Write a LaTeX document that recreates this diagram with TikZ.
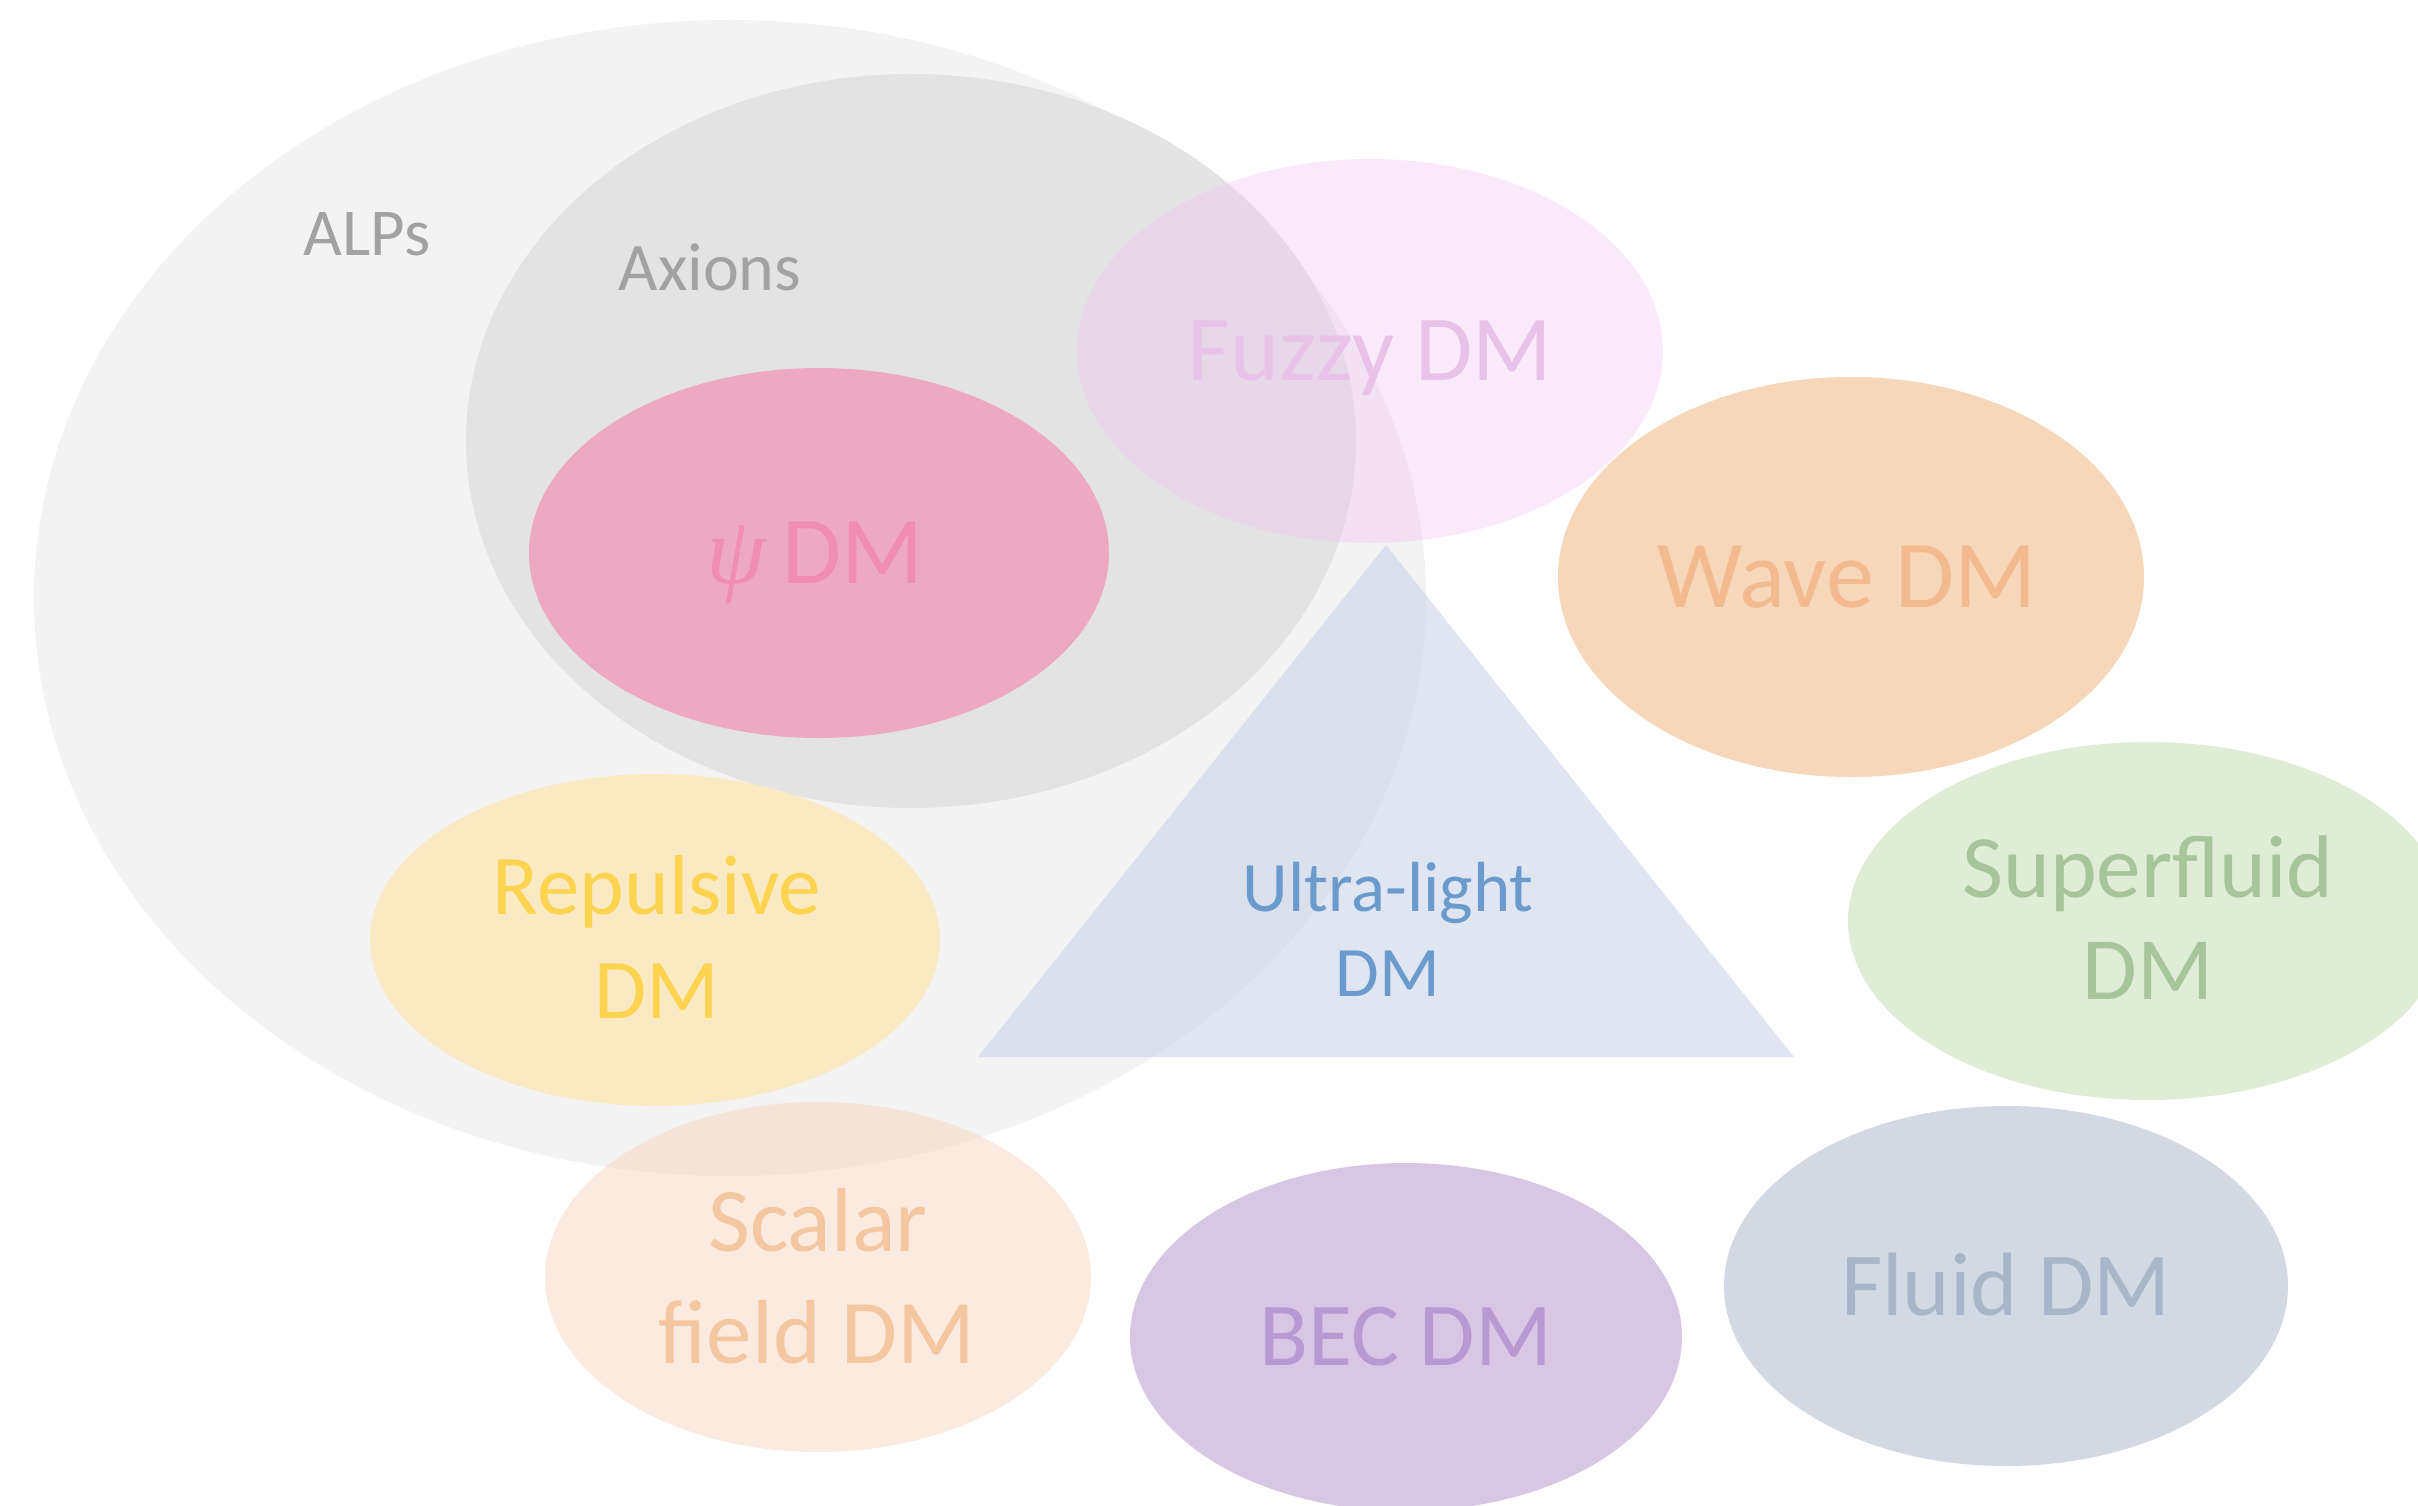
\documentclass[tikz,border=0pt]{standalone}
\usepackage{fontspec}
\setmainfont{Carlito}
\newfontfamily\grkfont{Liberation Serif}
\begin{document}
\begin{tikzpicture}[x=1pt,y=-1pt,
  lbl/.style={inner sep=0pt,anchor=base},
  blob/.style={draw=none}]
\definecolor{alpsF}{HTML}{F3F3F3}
\definecolor{axF}{HTML}{E2E2E2}
\definecolor{greyT}{HTML}{A2A2A2}
\definecolor{psiF}{HTML}{EDA9C2}
\definecolor{psiT}{HTML}{F28DB2}
\definecolor{fuzF}{RGB}{243,194,243}
\definecolor{fuzT}{HTML}{E9C2EA}
\definecolor{triF}{RGB}{200,212,233}
\definecolor{triT}{HTML}{6A9BCC}
\definecolor{wavF}{HTML}{F7D7BA}
\definecolor{wavT}{HTML}{F2BA8E}
\definecolor{supF}{HTML}{DFEDD7}
\definecolor{supT}{HTML}{A7C59A}
\definecolor{repF}{HTML}{F9EAC3}
\definecolor{repT}{HTML}{FDD34F}
\definecolor{scaF}{RGB}{247,215,193}
\definecolor{scaT}{HTML}{F5C7A1}
\definecolor{becF}{HTML}{D8C7E4}
\definecolor{becT}{HTML}{B899D2}
\definecolor{fluF}{HTML}{D2D9E3}
\definecolor{fluT}{HTML}{A9B5C9}
\useasboundingbox (0,0) rectangle (2418,1506);
\clip (0,0) rectangle (2418,1506);
\fill[white] (0,0) rectangle (2418,1506);
% shapes
\fill[alpsF] (730,598) ellipse [x radius=696, y radius=578];
\fill[axF,opacity=0.92] (911,441) ellipse [x radius=445, y radius=367];
\fill[psiF] (819,553) ellipse [x radius=290, y radius=185];
\fill[repF] (655,940) ellipse [x radius=285, y radius=166];
\fill[scaF,opacity=0.5] (818,1277) ellipse [x radius=273, y radius=175];
\fill[fuzF,opacity=0.35] (1370,351) ellipse [x radius=293, y radius=192];
\fill[triF,opacity=0.58] (978,1057) -- (1794,1057) -- (1386,545) -- cycle;
\fill[wavF] (1851,577) ellipse [x radius=293, y radius=200];
\fill[supF] (2148,921) ellipse [x radius=300, y radius=179];
\fill[becF] (1406,1337) ellipse [x radius=276, y radius=174];
\fill[fluF] (2006,1286) ellipse [x radius=282, y radius=180];
% labels
\node[lbl,text=greyT,font=\fontsize{67}{80}\selectfont] (alps) at (367,256) {ALPs};
\node[lbl,text=greyT,font=\fontsize{68}{80}\selectfont] (axions) at (710,291) {Axions};
\node[lbl,text=psiT,font=\fontsize{96}{115}\selectfont] (psi) at (815,583) {{\grkfont\itshape ψ}\,DM};
\node[lbl,text=fuzT,font=\fontsize{93}{112}\selectfont] (fuzzy) at (1370,381) {Fuzzy DM};
\node[lbl,text=wavT,font=\fontsize{96}{115}\selectfont] (wave) at (1847,607) {Wave DM};
\node[lbl,text=supT,font=\fontsize{89}{107}\selectfont] (sup1) at (2148,897) {Superfluid};
\node[lbl,text=supT,font=\fontsize{89}{107}\selectfont] (sup2) at (2148,999) {DM};
\node[lbl,text=triT,font=\fontsize{71}{85}\selectfont] (ul1) at (1388,911) {Ultra-light};
\node[lbl,text=triT,font=\fontsize{71}{85}\selectfont] (ul2) at (1388,996) {DM};
\node[lbl,text=repT,font=\fontsize{85}{102}\selectfont] (rep1) at (657,914) {Repulsive};
\node[lbl,text=repT,font=\fontsize{85}{102}\selectfont] (rep2) at (657,1018) {DM};
\node[lbl,text=scaT,font=\fontsize{91}{109}\selectfont] (sca1) at (818,1251) {Scalar};
\node[lbl,text=scaT,font=\fontsize{91}{109}\selectfont] (sca2) at (817,1363) {field DM};
\node[lbl,text=becT,font=\fontsize{90}{108}\selectfont] (bec) at (1406,1365) {BEC DM};
\node[lbl,text=fluT,font=\fontsize{90}{108}\selectfont] (fluid) at (2006,1315) {Fluid DM};
\end{tikzpicture}
\end{document}
